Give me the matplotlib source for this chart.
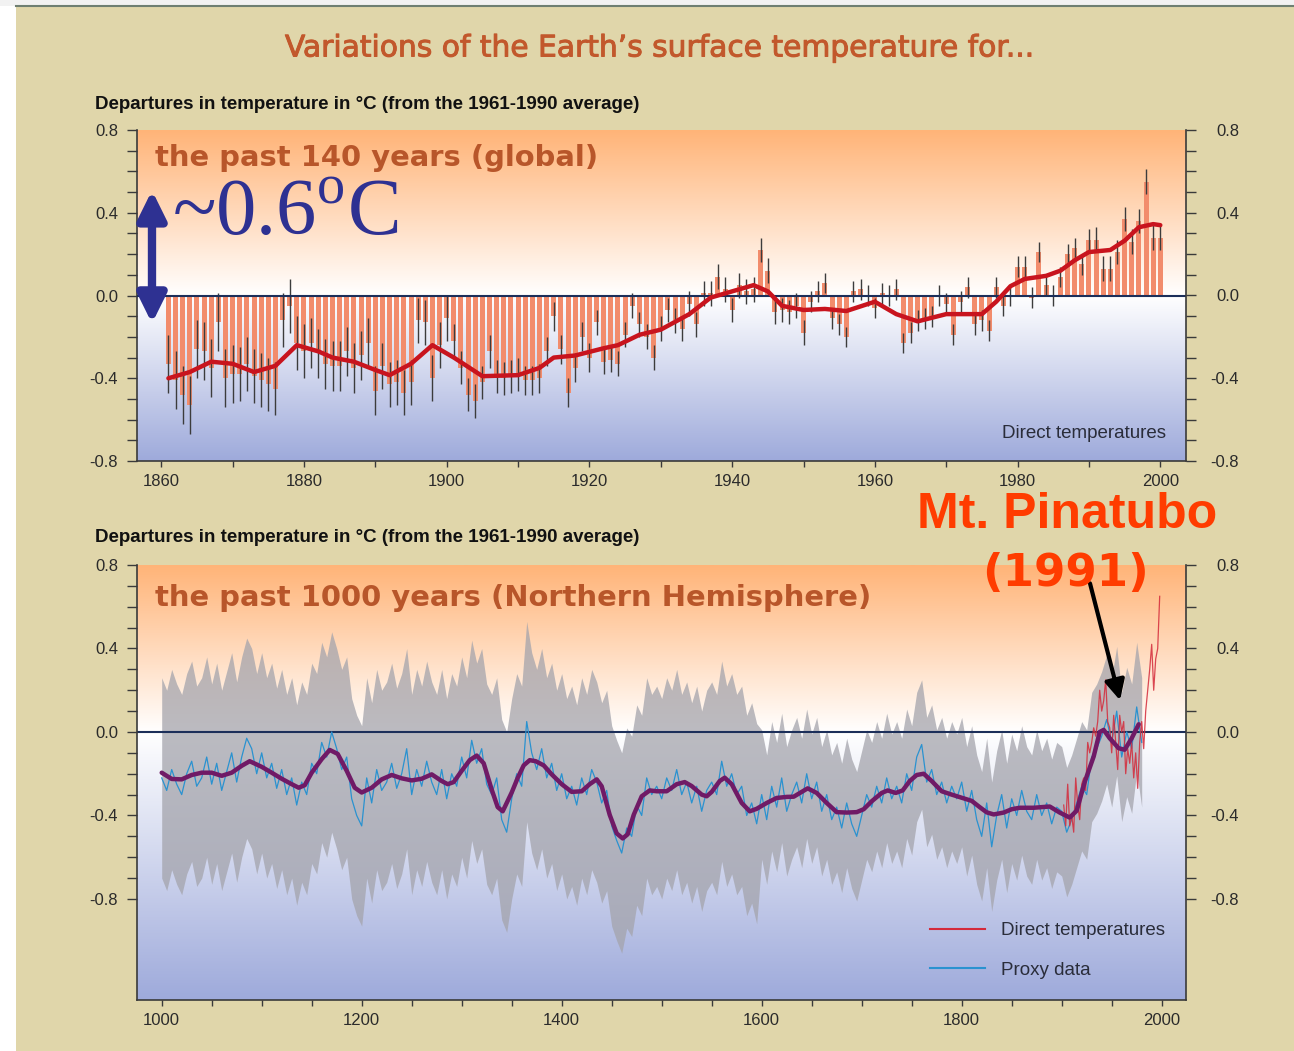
import numpy as np
import matplotlib.pyplot as plt
import matplotlib.patheffects as pe
from matplotlib.colors import LinearSegmentedColormap
from matplotlib.lines import Line2D
from matplotlib.patches import Rectangle

plt.rcParams['font.family'] = ['Liberation Sans', 'DejaVu Sans']
plt.rcParams['mathtext.fontset'] = 'custom'
plt.rcParams['mathtext.rm'] = 'Liberation Serif'

# ---- top panel: global annual anomalies 1861-2000
glob_years = np.arange(1861, 2001)
glob_vals = [
    -0.33, -0.41, -0.48, -0.53, -0.26, -0.27, -0.35, -0.13, -0.40, -0.38,
    -0.38, -0.33, -0.39, -0.41, -0.43, -0.45, -0.12, -0.05, -0.23, -0.27,
    -0.23, -0.28, -0.33, -0.34, -0.34, -0.27, -0.35, -0.29, -0.23, -0.46,
    -0.34, -0.43, -0.42, -0.47, -0.42, -0.12, -0.13, -0.40, -0.24, -0.11,
    -0.22, -0.35, -0.48, -0.51, -0.42, -0.27, -0.39, -0.40, -0.39, -0.38,
    -0.41, -0.41, -0.40, -0.27, -0.10, -0.26, -0.47, -0.35, -0.20, -0.30,
    -0.13, -0.32, -0.31, -0.33, -0.19, -0.05, -0.14, -0.20, -0.30, -0.16,
    -0.07, -0.12, -0.16, -0.04, -0.14, 0.01, 0.01, 0.09, 0.03, -0.07,
    0.05, 0.02, 0.03, 0.22, 0.12, -0.08, -0.07, -0.08, -0.05, -0.18,
    -0.03, 0.02, 0.06, -0.11, -0.14, -0.20, 0.02, 0.03, 0.00, -0.06,
    0.01, 0.00, 0.03, -0.23, -0.18, -0.12, -0.11, -0.10, 0.00, -0.04,
    -0.19, -0.03, 0.04, -0.14, -0.12, -0.17, 0.04, -0.05, 0.00, 0.14,
    0.14, -0.01, 0.21, 0.05, 0.00, 0.09, 0.20, 0.23, 0.15, 0.27,
    0.27, 0.13, 0.13, 0.21, 0.37, 0.26, 0.36, 0.55, 0.28, 0.28,
]
# error bar half-width per decade (1861-70, 1871-80, ...)
glob_err_decade = [0.14, 0.13, 0.12, 0.11, 0.08, 0.07, 0.06, 0.06, 0.06, 0.05,
                   0.05, 0.05, 0.05, 0.06]

glob_smooth_years = [1861, 1864, 1867, 1870, 1873, 1876, 1879, 1882, 1884, 1887,
                     1890, 1892, 1895, 1898, 1901, 1905, 1910, 1913, 1915, 1918,
                     1922, 1924, 1927, 1930, 1934, 1937, 1940, 1943, 1945, 1947,
                     1950, 1953, 1956, 1960, 1963, 1966, 1970, 1973, 1975, 1977,
                     1979, 1981, 1984, 1986, 1988, 1990, 1993, 1995, 1997, 1999, 2000]
glob_smooth_vals = [-0.40, -0.37, -0.32, -0.33, -0.37, -0.34, -0.24, -0.27, -0.30, -0.32,
                    -0.36, -0.385, -0.33, -0.24, -0.30, -0.39, -0.385, -0.35, -0.30, -0.29,
                    -0.255, -0.24, -0.19, -0.165, -0.09, -0.01, 0.02, 0.05, 0.02, -0.05,
                    -0.07, -0.065, -0.075, -0.03, -0.09, -0.125, -0.09, -0.09, -0.09, -0.03,
                    0.045, 0.08, 0.095, 0.12, 0.17, 0.21, 0.22, 0.265, 0.33, 0.345, 0.34]

# ---- bottom panel: NH proxy reconstruction (5-year samples), 1000-1980
proxy_years = np.arange(1000, 1981, 5)
proxy_vals = [
    -0.22, -0.28, -0.18, -0.25, -0.30, -0.20, -0.14, -0.26, -0.22, -0.12,
    -0.25, -0.15, -0.28, -0.19, -0.10, -0.24, -0.12, -0.03, -0.08, -0.20,
    -0.10, -0.22, -0.15, -0.27, -0.18, -0.30, -0.22, -0.35, -0.24, -0.30,
    -0.15, -0.20, -0.05, -0.12, 0.00, -0.08, -0.18, -0.12, -0.32, -0.40,
    -0.45, -0.22, -0.34, -0.18, -0.28, -0.24, -0.15, -0.27, -0.20, -0.08,
    -0.30, -0.18, -0.26, -0.14, -0.24, -0.30, -0.18, -0.32, -0.20, -0.26,
    -0.12, -0.22, -0.04, -0.15, -0.08, -0.25, -0.30, -0.22, -0.42, -0.48,
    -0.32, -0.20, -0.26, 0.05, -0.10, -0.18, -0.08, -0.22, -0.15, -0.28,
    -0.20, -0.32, -0.26, -0.35, -0.22, -0.30, -0.18, -0.24, -0.34, -0.28,
    -0.45, -0.52, -0.58, -0.46, -0.50, -0.35, -0.40, -0.22, -0.30, -0.26,
    -0.32, -0.22, -0.28, -0.18, -0.30, -0.24, -0.34, -0.26, -0.38, -0.28,
    -0.24, -0.30, -0.14, -0.26, -0.20, -0.30, -0.26, -0.40, -0.34, -0.44,
    -0.30, -0.42, -0.26, -0.36, -0.22, -0.38, -0.30, -0.24, -0.34, -0.20,
    -0.32, -0.24, -0.38, -0.30, -0.42, -0.36, -0.46, -0.34, -0.44, -0.50,
    -0.40, -0.30, -0.36, -0.26, -0.34, -0.22, -0.32, -0.26, -0.34, -0.20,
    -0.28, -0.12, -0.06, -0.24, -0.18, -0.30, -0.24, -0.34, -0.26, -0.32,
    -0.24, -0.38, -0.28, -0.42, -0.50, -0.34, -0.55, -0.40, -0.30, -0.46,
    -0.32, -0.40, -0.28, -0.38, -0.42, -0.30, -0.40, -0.34, -0.44, -0.36,
    -0.38, -0.48, -0.42, -0.34, -0.26, -0.30, -0.12, -0.08, -0.02, 0.06,
    -0.05, 0.10, -0.12, 0.00, -0.08, 0.12, -0.05,
]
# half-width of the grey uncertainty band before / from 1600
unc_before_1600 = 0.48
unc_after_1600 = 0.31

nh_smooth_years = [1000, 1010, 1020, 1030, 1040, 1050, 1060, 1070, 1080, 1088,
                   1100, 1110, 1120, 1130, 1137, 1143, 1150, 1160, 1168, 1176,
                   1185, 1193, 1200, 1210, 1220, 1230, 1240, 1250, 1260, 1270,
                   1280, 1286, 1292, 1300, 1308, 1315, 1322, 1330, 1336, 1341,
                   1350, 1356, 1362, 1368, 1374, 1382, 1390, 1400, 1410, 1420,
                   1428, 1435, 1440, 1448, 1455, 1461, 1466, 1472, 1480, 1488,
                   1495, 1505, 1515, 1523, 1530, 1540, 1545, 1550, 1558, 1563,
                   1570, 1580, 1588, 1595, 1605, 1615, 1625, 1632, 1640, 1646,
                   1655, 1665, 1675, 1685, 1695, 1702, 1710, 1720, 1726, 1734,
                   1741, 1748, 1755, 1762, 1770, 1780, 1790, 1800, 1810, 1818,
                   1825, 1832, 1842, 1850, 1858, 1872, 1888, 1898, 1908, 1915,
                   1923, 1932, 1938, 1942, 1948, 1957, 1963, 1970, 1977]
nh_smooth_vals = [-0.195, -0.225, -0.227, -0.206, -0.195, -0.195, -0.21, -0.195, -0.162, -0.14,
                  -0.167, -0.195, -0.224, -0.25, -0.267, -0.255, -0.195, -0.13, -0.086, -0.105,
                  -0.186, -0.267, -0.29, -0.267, -0.227, -0.206, -0.222, -0.232, -0.224, -0.203,
                  -0.235, -0.25, -0.24, -0.186, -0.135, -0.113, -0.15, -0.276, -0.36, -0.38,
                  -0.29, -0.22, -0.16, -0.135, -0.14, -0.16, -0.203, -0.25, -0.287, -0.284,
                  -0.25, -0.227, -0.26, -0.397, -0.486, -0.51, -0.49, -0.397, -0.308, -0.28,
                  -0.284, -0.284, -0.25, -0.24, -0.259, -0.30, -0.308, -0.287, -0.235, -0.219,
                  -0.25, -0.34, -0.38, -0.368, -0.34, -0.316, -0.311, -0.31, -0.287, -0.27,
                  -0.292, -0.34, -0.384, -0.386, -0.384, -0.37, -0.332, -0.292, -0.28, -0.292,
                  -0.28, -0.235, -0.206, -0.2, -0.235, -0.284, -0.30, -0.315, -0.33, -0.36,
                  -0.385, -0.395, -0.386, -0.37, -0.363, -0.363, -0.357, -0.386, -0.41, -0.377,
                  -0.24, -0.117, 0.0, 0.01, -0.03, -0.078, -0.085, -0.03, 0.037]

# NH direct (instrumental) temperatures, 2-year samples 1902-1998
nh_direct_years = np.arange(1902, 1999, 2)
nh_direct_vals = [
    -0.35, -0.45, -0.25, -0.45, -0.40, -0.48, -0.22, -0.35, -0.42, -0.25,
    -0.22, -0.28, -0.05, -0.10, -0.05, 0.02, -0.02, 0.05, 0.20, 0.10,
    0.15, 0.25, 0.05, 0.02, -0.10, 0.08, -0.05, -0.18, 0.08, 0.00,
    0.05, -0.20, -0.08, -0.15, -0.05, -0.22, -0.10, -0.27, -0.05, 0.05,
    -0.08, 0.10, 0.20, 0.30, 0.42, 0.20, 0.35, 0.40, 0.65,
]

yticks_major = [-0.8, -0.4, 0.0, 0.4, 0.8]
ytick_labels = ['-0.8', '-0.4', '0.0', '0.4', '0.8']

# colours
BEIGE = '#e0d6aa'
ORANGE_BG = '#ffb478'
BLUE_BG = '#9eaadb'
TITLE_C = '#c2582c'
LABEL_C = '#b8562a'
NAVY = '#2e3192'
AXC = '#3a3a3a'
TXT = '#2a2d3a'


def paint_gradient(ax, x0, x1, y0, y1):
    mid = (0 - y0) / (y1 - y0)
    cmap = LinearSegmentedColormap.from_list('bg', [(0, BLUE_BG), (mid, 'white'), (1, ORANGE_BG)])
    ax.imshow(np.linspace(0, 1, 512).reshape(-1, 1), extent=[x0, x1, y0, y1],
              origin='lower', aspect='auto', cmap=cmap, zorder=0)
    ax.set_xlim(x0, x1)
    ax.set_ylim(y0, y1)


def style_axes(ax, y0, y1):
    for s in ['top', 'right']:
        ax.spines[s].set_visible(False)
    for s in ['left', 'bottom']:
        ax.spines[s].set_color(AXC)
        ax.spines[s].set_linewidth(1.2)
    ax.set_yticks(yticks_major)
    ax.set_yticklabels(ytick_labels)
    ax.set_yticks(np.arange(-0.8, 0.81, 0.1), minor=True)
    ax.tick_params(axis='y', which='both', length=7.2, width=1, color=AXC,
                   labelsize=12, labelcolor='#2b2b2b', pad=6.5)
    ax.tick_params(axis='x', which='both', length=4.3, width=1, color=AXC,
                   labelsize=12, labelcolor='#2b2b2b', pad=5)
    # right-hand axis with labels right-aligned
    axr = ax.twinx()
    axr.set_ylim(y0, y1)
    for s in ['top', 'left', 'bottom']:
        axr.spines[s].set_visible(False)
    axr.spines['right'].set_color(AXC)
    axr.spines['right'].set_linewidth(1.2)
    axr.set_yticks(yticks_major)
    axr.set_yticklabels(ytick_labels)
    axr.set_yticks(np.arange(-0.8, 0.81, 0.1), minor=True)
    axr.tick_params(axis='y', which='both', length=7.2, width=1, color=AXC,
                    labelsize=12, labelcolor='#2b2b2b', pad=31)
    for lab in axr.get_yticklabels():
        lab.set_horizontalalignment('right')
    return axr


W, H = 1294, 1051
fig = plt.figure(figsize=(W / 100, H / 100), dpi=100, facecolor=BEIGE)
fig.patches.append(Rectangle((0, 0), 16 / W, 1, transform=fig.transFigure,
                             facecolor='white', edgecolor='none', zorder=-1))
fig.patches.append(Rectangle((0, 1 - 6 / H), 1, 6 / H, transform=fig.transFigure,
                             facecolor='#f2f2f2', edgecolor='none', zorder=-1))
fig.add_artist(Line2D([16 / W, 1], [1 - 6 / H, 1 - 6 / H], color='#6f7f72', lw=1.5))

fig.text(661 / W, 1 - 48 / H, 'Variations of the Earth\u2019s surface temperature for...',
         ha='center', va='center', fontsize=21.4, color=TITLE_C, family='DejaVu Sans',
         path_effects=[pe.withStroke(linewidth=0.7, foreground=TITLE_C)])

# ================= top panel =================
ax1 = fig.add_axes([137 / W, 1 - 461 / H, 1049 / W, 331 / H])
paint_gradient(ax1, 1856.6, 2003.6, -0.8, 0.8)
style_axes(ax1, -0.8, 0.8)
ax1.set_xticks(np.arange(1860, 2001, 20))
ax1.set_xticks(np.arange(1860, 2001, 10), minor=True)

gv = np.array(glob_vals)
ge = np.repeat(glob_err_decade, 10)
ax1.bar(glob_years, gv, width=0.7, color='#f28c6c', zorder=2)
ax1.vlines(glob_years, gv - ge, gv + ge, color='#3c3c3c', lw=1, zorder=3)
ax1.axhline(0, color='#1c2f5a', lw=1.5, zorder=3)
ax1.plot(glob_smooth_years, glob_smooth_vals, color='#c8141e', lw=3.2, zorder=4,
         solid_capstyle='round', solid_joinstyle='round')

ax1.text(0.017, 0.915, 'the past 140 years (global)', transform=ax1.transAxes,
         fontsize=20.9, fontweight='bold', color=LABEL_C, family='DejaVu Sans',
         ha='left', va='center', zorder=6)
ax1.text(0.981, 0.082, 'Direct temperatures', transform=ax1.transAxes,
         fontsize=13.5, color=TXT, ha='right', va='center', zorder=6)
ax1.text(0.033, 0.683, '~0.6$^{\\mathrm{o}}$C', transform=ax1.transAxes,
         fontsize=58, color=NAVY, family='Liberation Serif', ha='left',
         va='baseline', zorder=6)
ax1.annotate('', xy=(1858.7, 0.508), xytext=(1858.7, -0.135),
             arrowprops=dict(arrowstyle='<|-|>,head_length=0.85,head_width=0.42',
                             mutation_scale=20, lw=6, color=NAVY,
                             shrinkA=0, shrinkB=0), zorder=6)

fig.text(95 / W, 1 - 104 / H, 'Departures in temperature in \u00b0C (from the 1961-1990 average)',
         ha='left', va='center', fontsize=13.5, fontweight='bold', color='#111111')
fig.text(95 / W, 1 - 538 / H, 'Departures in temperature in \u00b0C (from the 1961-1990 average)',
         ha='left', va='center', fontsize=13.5, fontweight='bold', color='#111111')

# ================= bottom panel =================
ax2 = fig.add_axes([137 / W, 1 - 1000 / H, 1049 / W, 435 / H])
paint_gradient(ax2, 975.3, 2024.3, -1.284, 0.8)
style_axes(ax2, -1.284, 0.8)
ax2.set_xticks(np.arange(1000, 2001, 200))
ax2.set_xticks(np.arange(1000, 2001, 50), minor=True)

pv = np.array(proxy_vals)
unc = np.where(proxy_years < 1600, unc_before_1600, unc_after_1600)
ax2.fill_between(proxy_years, pv - unc, pv + unc, color='#a4a4ac', alpha=0.75,
                 lw=0, zorder=1)
ax2.axhline(0, color='#1c2f5a', lw=1.5, zorder=2)
blue_line, = ax2.plot(proxy_years, pv, color='#2a92d0', lw=0.9, zorder=3)
red_line, = ax2.plot(nh_direct_years, nh_direct_vals, color='#d42a3a', lw=0.9,
                     alpha=0.85, zorder=4)
ax2.plot(nh_smooth_years, nh_smooth_vals, color='#701a66', lw=3.2, zorder=5,
         solid_capstyle='round', solid_joinstyle='round')

ax2.text(0.017, 0.924, 'the past 1000 years (Northern Hemisphere)', transform=ax2.transAxes,
         fontsize=20.9, fontweight='bold', color=LABEL_C, family='DejaVu Sans',
         ha='left', va='center', zorder=6)

leg = ax2.legend([Line2D([], [], color='#d42a3a', lw=1.5), Line2D([], [], color='#2a92d0', lw=1.5)],
                 ['Direct temperatures', 'Proxy data'], loc='upper left',
                 bbox_to_anchor=(0.756, 0.179), frameon=False, fontsize=13.5,
                 handlelength=2.93, handletextpad=0.85, labelspacing=1.2,
                 borderpad=0, borderaxespad=0)
for t in leg.get_texts():
    t.set_color(TXT)

# Mt. Pinatubo annotation
fig.text(1067 / W, 1 - 515 / H, 'Mt. Pinatubo', ha='center', va='center',
         fontsize=36, fontweight='bold', color='#ff3c00', zorder=10)
fig.text(1066 / W, 1 - 573 / H, '(1991)', ha='center', va='center',
         fontsize=32.5, fontweight='bold', color='#ff3c00', family='DejaVu Sans',
         zorder=10)
ax2.annotate('', xy=(1958.3, 0.152), xytext=(1928.3, 0.712),
             arrowprops=dict(arrowstyle='-|>,head_length=0.6,head_width=0.3',
                             mutation_scale=20, lw=3, color='black',
                             shrinkA=0, shrinkB=0), annotation_clip=False, zorder=11)

fig.savefig('out.png', dpi=100, facecolor=fig.get_facecolor())
